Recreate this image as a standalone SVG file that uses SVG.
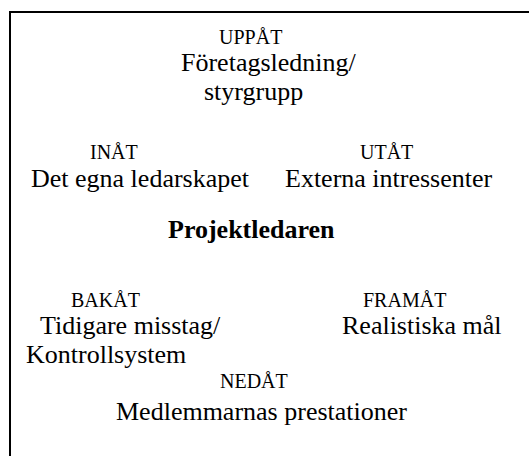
<svg xmlns="http://www.w3.org/2000/svg" width="529" height="456" viewBox="0 0 529 456">
<style>
text{font-family:"Liberation Serif","Times New Roman",serif;fill:#000}
.h{font-size:20px}
.t{font-size:26px}
.b{font-size:26px;font-weight:bold}
</style>
<rect x="0" y="0" width="529" height="456" fill="#fff"/>
<g id="frame"><rect x="10" y="12" width="540" height="470" fill="none" stroke="#000" stroke-width="2"/></g>
<g id="connectors"></g>
<g id="uppat"><text class="h" x="219" y="44">UPPÅT</text><text class="t" x="181" y="71">Företagsledning/</text><text class="t" x="204" y="100">styrgrupp</text></g>
<g id="inat"><text class="h" x="90" y="159">INÅT</text><text class="t" x="31" y="187">Det egna ledarskapet</text></g>
<g id="utat"><text class="h" x="360" y="159">UTÅT</text><text class="t" x="285" y="187">Externa intressenter</text></g>
<g id="projektledaren"><text class="b" x="168" y="238">Projektledaren</text></g>
<g id="bakat"><text class="h" x="71" y="307">BAKÅT</text><text class="t" x="40" y="334">Tidigare misstag/</text><text class="t" x="26" y="363">Kontrollsystem</text></g>
<g id="framat"><text class="h" x="363" y="307">FRAMÅT</text><text class="t" x="342" y="334">Realistiska mål</text></g>
<g id="nedat"><text class="h" x="220" y="388">NEDÅT</text><text class="t" x="116" y="420">Medlemmarnas prestationer</text></g>
</svg>
